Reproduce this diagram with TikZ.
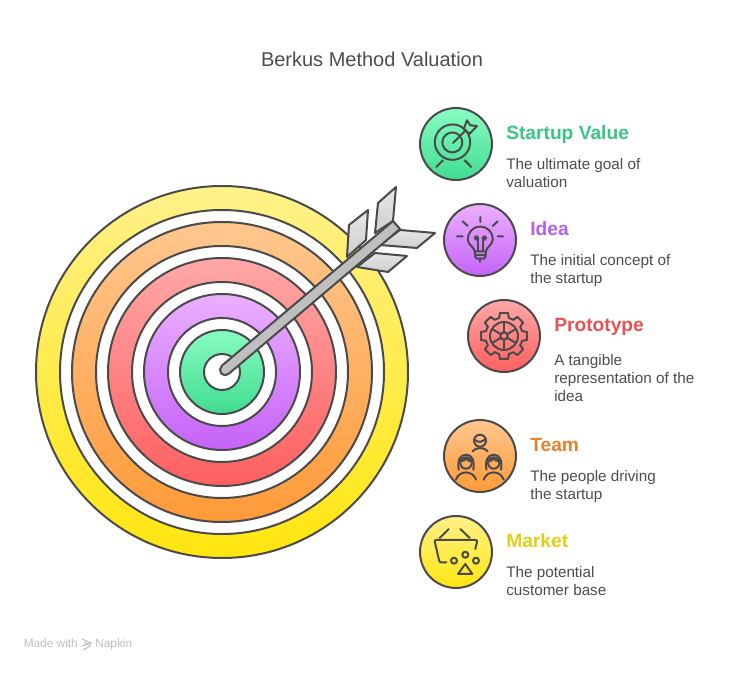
\documentclass[tikz,border=0pt]{standalone}
\usepackage{fontspec}
\setmainfont{Liberation Sans}
\definecolor{ink}{HTML}{4A4A4A}
\definecolor{txt}{HTML}{4D4D4D}
\definecolor{yA}{HTML}{FFF18A}\definecolor{yB}{HTML}{FFE60F}
\definecolor{oA}{HTML}{FFC78E}\definecolor{oB}{HTML}{FF9A38}
\definecolor{rA}{HTML}{FFA8A8}\definecolor{rB}{HTML}{FF5F5F}
\definecolor{pA}{HTML}{EBB0FF}\definecolor{pB}{HTML}{C562F8}
\definecolor{gA}{HTML}{88FBC2}\definecolor{gB}{HTML}{40DC90}
\definecolor{hG}{HTML}{3CC583}\definecolor{hP}{HTML}{B75FE6}
\definecolor{hR}{HTML}{E65353}\definecolor{hO}{HTML}{E5822E}
\definecolor{hY}{HTML}{E3CF17}
\tikzset{
  disc/.style={circle,draw=ink,line width=1.5pt,inner sep=0pt,minimum size=#1*0.75pt},
  hollow/.style={disc=#1,fill=white},
  ico/.style={draw=ink,line width=1.5pt,line cap=round,line join=round},
  feather/.style={draw=ink,line width=1.5pt,line join=round,top color=gray!20,bottom color=gray!38},
  head/.style={font=\fontsize{14.4}{18}\selectfont\bfseries,anchor=base west,inner sep=0pt},
  body/.style={font=\fontsize{11.45}{13.7}\selectfont,text=txt,anchor=north west,align=left,inner sep=0pt},
  foot/.style={font=\fontsize{8.9}{10}\selectfont,text=black!25,anchor=base west,inner sep=0pt},
}
\begin{document}
\begin{tikzpicture}[x=0.75pt,y=-0.75pt]
\useasboundingbox (0,0) rectangle (744,673);
\fill[white] (0,0) rectangle (744,673);
\node[font=\fontsize{15}{18}\selectfont,text=txt,anchor=base,inner sep=0pt] (title) at (372,66.5) {Berkus Method Valuation};

% target
\node[disc=372,top color=yA,bottom color=yB] (r1) at (222,372) {};
\node[hollow=324] (w1) at (222,372) {};
\node[disc=300,top color=oA,bottom color=oB] (r2) at (222,372) {};
\node[hollow=252] (w2) at (222,372) {};
\node[disc=228,top color=rA,bottom color=rB] (r3) at (222,372) {};
\node[hollow=180] (w3) at (222,372) {};
\node[disc=156,top color=pA,bottom color=pB] (r4) at (222,372) {};
\node[hollow=108] (w4) at (222,372) {};
\node[disc=84,top color=gA,bottom color=gB] (r5) at (222,372) {};
\node[hollow=36] (w5) at (222,372) {};

% arrow
\path[feather] (347,257) -- (349,225) -- (368,210) -- (366,240) -- cycle;
\path[feather] (375,233) -- (378,203) -- (396,187) -- (393,221) -- cycle;
\path[feather] (357,267) -- (388,272) -- (407,256) -- (375,253) -- cycle;
\path[feather] (380,245) -- (417,248) -- (435,233) -- (400,230) -- cycle;
\draw[ink,line width=1.5pt,fill=gray!50!white,line join=round]
  (221.5,366) -- (393,221) -- (400,229) -- (228.5,374)
  arc[start angle=50,end angle=230,radius=5.2] -- cycle;

% icon discs
\node[disc=72,top color=gA,bottom color=gB] (i1) at (456,144) {};
\node[disc=72,top color=pA,bottom color=pB] (i2) at (480,240) {};
\node[disc=72,top color=rA,bottom color=rB] (i3) at (504,336) {};
\node[disc=72,top color=oA,bottom color=oB] (i4) at (480,456) {};
\node[disc=72,top color=yA,bottom color=yB] (i5) at (456,552) {};

% icon 1: target
\begin{scope}[ico]
\draw (467,132) arc[start angle=-35,end angle=-395,radius=17.7];
\draw (460,136) arc[start angle=-40,end angle=-390,radius=10];
\draw (453,143) -- (466,130);
\draw (463.7,129.3) -- (467,120.3) -- (470.3,125.3) -- (477,126) -- (469.7,133.7) -- cycle;
\draw (436.3,167) -- (443,160.3) (471.3,167) -- (464.7,160.3);
\end{scope}

% icon 2: bulb
\begin{scope}[ico]
\draw (480.3,217) -- (480.3,222) (462.7,221.3) -- (467.7,226) (497.7,221.3) -- (492.7,226)
      (457,236.3) -- (462.7,236.3) (497.7,236.3) -- (503,236.3);
\draw (474.7,251.3) .. controls (474.5,247) and (467.8,245.5) .. (467.8,239)
      arc[start angle=180,end angle=360,radius=12.5]
      .. controls (492.8,245.5) and (486,247) .. (486,251.3) -- cycle;
\draw (474.7,251.3) -- (475.3,257) .. controls (475.5,258.5) and (476,258.7) .. (477,258.7) -- (483.7,258.7) .. controls (484.7,258.7) and (485.2,258.5) .. (485.4,257) -- (486,251.3);
\draw (475,255) -- (485.7,255);
\draw (480.3,258.7) -- (480.3,262);
\draw (477.7,251.3) -- (477.7,238.5) (482.9,251.3) -- (482.9,238.5);
\draw (476.3,238) circle (1.8) (484.3,238) circle (1.8);
\end{scope}

% icon 3: gear
\begin{scope}[ico,shift={(504,336)}]
\foreach \a in {0,45,...,315}{
  \draw (\a-15:18.7) -- (\a-10:23.3) -- (\a+10:23.3) -- (\a+15:18.7)
        arc[start angle=\a+15,end angle=\a+30,radius=18.7];
}
\draw (0,0) circle (14);
\draw (0,0) circle (3.7);
\foreach \a in {30,90,...,330}{ \draw (\a:3.7) -- (\a:14); }
\end{scope}

% icon 4: team
\begin{scope}[ico]
\draw (480,440.7) circle (6);
\draw (474.5,439.5) .. controls (477,443) and (483,442.5) .. (485.5,438.5);
\draw (472.7,451.3) .. controls (475,447) and (485,447) .. (487.7,451.3);
\foreach \x in {466,493.7}{
  \draw (\x,463) circle (5.7);
  \draw (\x-7.3,469.7) .. controls (\x-8.5,461) and (\x-6.5,454.7) .. (\x,454.7)
        .. controls (\x+6.5,454.7) and (\x+8.5,461) .. (\x+7.3,469.7);
  \draw (\x-5.5,461) .. controls (\x-3,461.5) and (\x-1,460.5) .. (\x,458) .. controls (\x+1,460.5) and (\x+3,461.5) .. (\x+5.5,461);
  \draw (\x-10,479.7) .. controls (\x-7,470) and (\x+7,470) .. (\x+10,479.7);
}
\end{scope}

% icon 5: basket
\begin{scope}[ico]
\draw (446.3,562.3) -- (441,562.3) .. controls (439.8,562.3) and (439.2,561.5) .. (439,560) -- (434.8,542) .. controls (434.4,540.5) and (435,540) .. (436.5,540) -- (475.5,540) .. controls (476.8,540) and (477.2,540.5) .. (477,542) -- (475.3,549);
\draw (439.7,538) -- (448.7,529) (460.3,529) -- (469.7,538);
\draw (454,560.7) circle (3) (465.3,554.7) circle (3) (476,560.7) circle (3);
\draw (465.3,564) -- (458,574) -- (472.3,574) -- cycle;
\end{scope}

% labels
\node[head,text=hG] (t1) at (506,140) {Startup Value};
\node[body] (b1) at (506,158) {The ultimate goal of\\valuation};
\node[head,text=hP] (t2) at (530,236) {Idea};
\node[body] (b2) at (530,254) {The initial concept of\\the startup};
\node[head,text=hR] (t3) at (554,332) {Prototype};
\node[body] (b3) at (554,354) {A tangible\\representation of the\\idea};
\node[head,text=hO] (t4) at (530,452) {Team};
\node[body] (b4) at (530,470) {The people driving\\the startup};
\node[head,text=hY] (t5) at (506,548) {Market};
\node[body] (b5) at (506,566) {The potential\\customer base};

% footer
\node[foot] (f1) at (23.5,648) {Made with};
\node[foot] (f2) at (95,648) {Napkin};
\draw[black!25,line width=0.8pt] (82,639) -- (91,643) -- (82,646) (84,642.5) -- (90,644.5) (83,650) -- (91,645.5);
\end{tikzpicture}
\end{document}
